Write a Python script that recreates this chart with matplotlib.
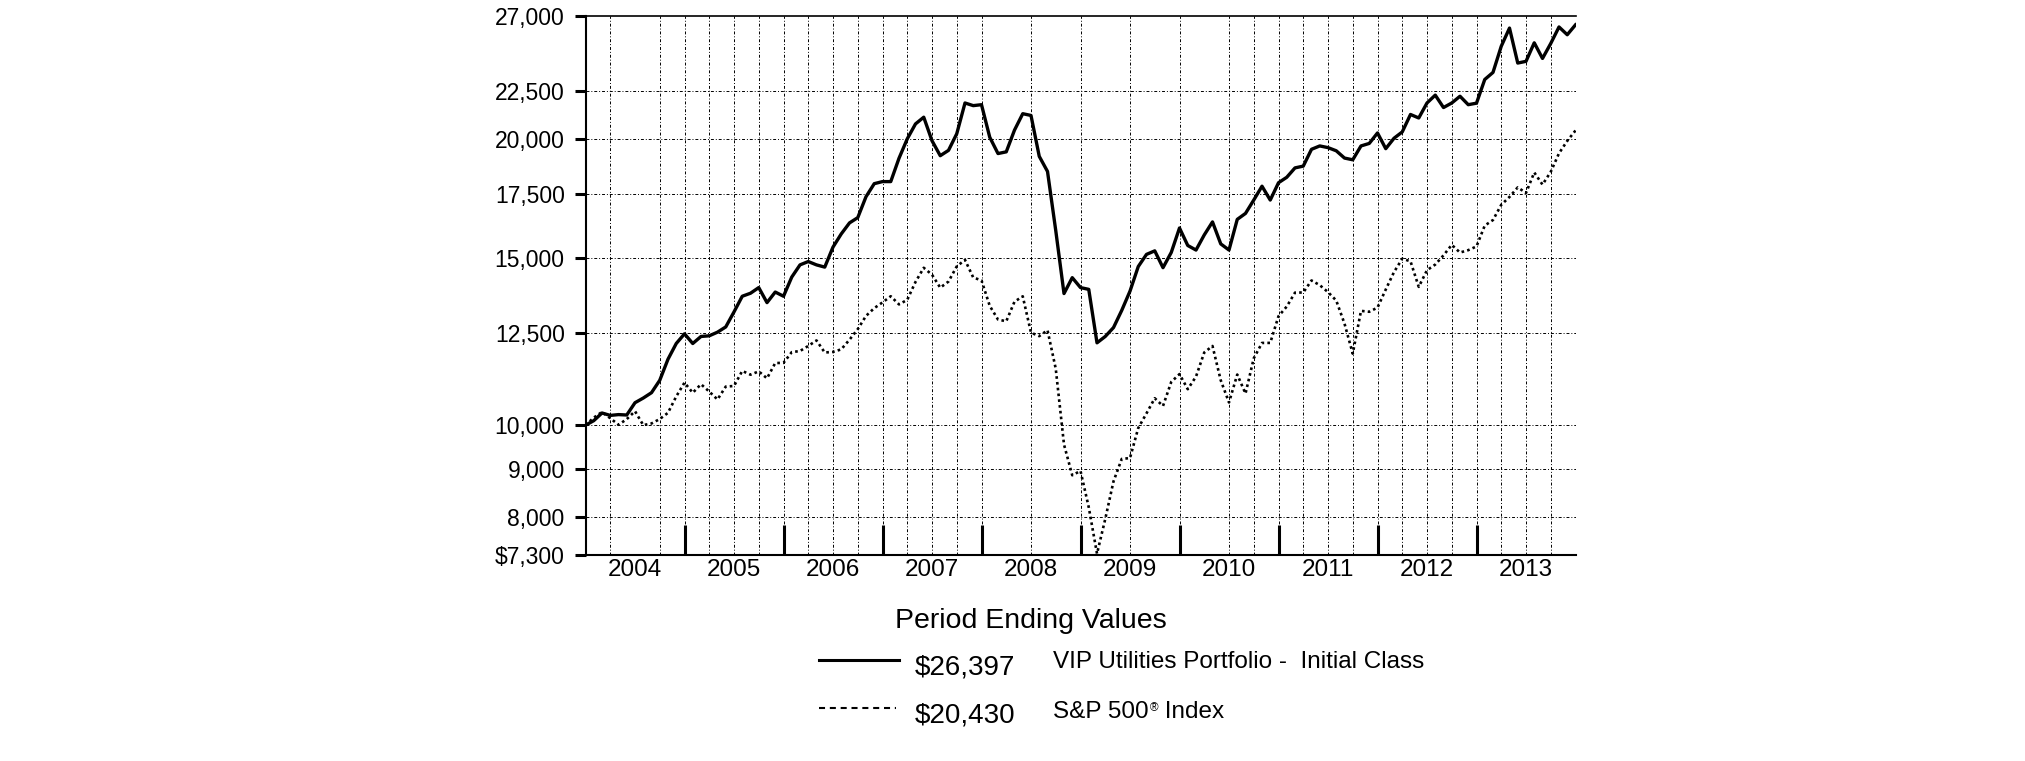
import matplotlib
matplotlib.use('Agg')
import matplotlib.pyplot as plt
from matplotlib.lines import Line2D
from matplotlib.ticker import FixedLocator, NullLocator
import numpy as np

plt.rcParams['font.family'] = ['Liberation Sans', 'DejaVu Sans']

# month-end values, Dec 2003 (index 0) .. Dec 2013 (index 120)
vip_utilities = [
    10000,
    10110, 10300, 10240, 10260, 10250, 10560, 10680, 10820, 11150, 11735, 12190, 12480,
    12190, 12400, 12420, 12530, 12690, 13160, 13670, 13770, 13960, 13460, 13810, 13670,
    14320, 14750, 14870, 14750, 14670, 15400, 15900, 16330, 16540, 17400, 17960, 18050,
    18050, 19100, 20020, 20760, 21100, 19930, 19220, 19470, 20270, 21840, 21700, 21750,
    20100, 19320, 19400, 20450, 21280, 21190, 19190, 18500, 16030, 13760, 14300, 13960,
    13900, 12210, 12400, 12670, 13210, 13840, 14690, 15130, 15260, 14650, 15200, 16130,
    15460, 15290, 15860, 16370, 15520, 15290, 16470, 16710, 17260, 17850, 17260, 18000,
    18240, 18660, 18740, 19520, 19680, 19600, 19450, 19110, 19030, 19680, 19800, 20310,
    19550, 20050, 20360, 21240, 21060, 21840, 22260, 21600, 21840, 22200, 21750, 21830,
    23120, 23520, 25060, 26190, 24060, 24160, 25270, 24330, 25230, 26260, 25770, 26397,
]
sp500 = [
    10000,
    10184, 10326, 10170, 10010, 10148, 10345, 10002, 10042, 10150, 10305, 10722, 11087,
    10817, 11044, 10849, 10643, 10981, 10997, 11406, 11302, 11394, 11203, 11627, 11630,
    11938, 11970, 12118, 12281, 11927, 11944, 12018, 12304, 12621, 13033, 13281, 13467,
    13670, 13402, 13552, 14152, 14646, 14403, 13957, 14166, 14696, 14929, 14305, 14206,
    13354, 12920, 12864, 13491, 13667, 12515, 12410, 12590, 11468, 9542, 8857, 8951,
    8196, 7323, 7965, 8727, 9215, 9234, 9932, 10291, 10675, 10476, 11105, 11319,
    10912, 11250, 11928, 12117, 11149, 10566, 11307, 10797, 11760, 12207, 12208, 13024,
    13333, 13790, 13795, 14203, 14043, 13808, 13528, 12793, 11894, 13194, 13165, 13299,
    13895, 14495, 14972, 14878, 13984, 14560, 14762, 15094, 15484, 15198, 15286, 15425,
    16224, 16445, 17062, 17392, 17799, 17560, 18454, 17919, 18482, 19332, 19922, 20430,
]
years = ['2004', '2005', '2006', '2007', '2008', '2009', '2010', '2011', '2012', '2013']
y_ticks = [7300, 8000, 9000, 10000, 12500, 15000, 17500, 20000, 22500, 27000]
y_tick_labels = ['$7,300', '8,000', '9,000', '10,000', '12,500', '15,000',
                 '17,500', '20,000', '22,500', '27,000']
# dotted vertical grid (months), a few are missing in the original
grid_months = [3, 9, 12, 15, 18, 21, 24, 27, 30, 33, 36, 39, 42, 45, 48, 54, 60,
               66, 72, 78, 81, 84, 87, 90, 93, 96, 99, 102, 105, 108, 111, 114, 117]
legend_values = ['$26,397', '$20,430']
legend_title = 'Period Ending Values'

W, H = 2025, 761
fig = plt.figure(figsize=(W / 100, H / 100), dpi=100)
ax = fig.add_axes([585.5 / W, 1 - 555 / H, 990 / W, 539.5 / H])
months = np.arange(len(vip_utilities))

ax.set_yscale('log')
ax.set_xlim(0, 120)
ax.set_ylim(7300, 27000)

grid_style = dict(color='black', lw=0.7, ls=(0, (3, 2, 1, 2)), zorder=1)
for v in y_ticks[1:-1]:
    ax.axhline(v, **grid_style)
for m in grid_months:
    ax.axvline(m, **grid_style)

ax.plot(months, vip_utilities, color='black', lw=2.4, zorder=3)
ax.plot(months, sp500, color='black', lw=1.9, ls=(0, (1, 1.2)), zorder=3)

# y axis
ax.yaxis.set_major_locator(FixedLocator(y_ticks))
ax.yaxis.set_minor_locator(NullLocator())
ax.set_yticklabels(y_tick_labels)
ax.tick_params(axis='y', direction='out', length=8, width=2.2, pad=7, labelsize=16.5)

# x axis: year ticks inside, labels centred in each year
ax.set_xticks(range(12, 120, 12))
ax.set_xticklabels([])
ax.tick_params(axis='x', direction='in', length=21.6, width=2.2)
for i, yr in enumerate(years):
    ax.text(6 + 12 * i, -15 / 539.5, yr, transform=ax.get_xaxis_transform(),
            ha='center', va='center', fontsize=17.5)

ax.spines['right'].set_visible(False)
ax.spines['left'].set_linewidth(1.5)
ax.spines['bottom'].set_linewidth(1.5)
ax.spines['top'].set_linewidth(1.2)

# legend block under the chart
def fx(px):
    return px / W

def fy(py):
    return 1 - py / H

fig.text(fx(895), fy(628), legend_title, fontsize=20.5, va='baseline')
fig.add_artist(Line2D([fx(819), fx(899)], [fy(659.5)] * 2, color='black', lw=2.2))
fig.add_artist(Line2D([fx(819), fx(896)], [fy(707.5)] * 2, color='black', lw=1.5,
                      ls=(0, (2.9, 2.3))))
fig.text(fx(915), fy(674), legend_values[0], fontsize=20, va='baseline')
fig.text(fx(915), fy(722), legend_values[1], fontsize=20, va='baseline')
fig.text(fx(1053), fy(668), 'VIP Utilities Portfolio -  Initial Class', fontsize=17.5,
         va='baseline')

r = fig.canvas.get_renderer()
t1 = fig.text(fx(1053), fy(717.5), 'S&P 500', fontsize=17.5, va='baseline')
bb = t1.get_window_extent(renderer=r)
t2 = fig.text(bb.x1 / W + 1 / W, fy(711), '®', fontsize=8.5, va='baseline')
bb2 = t2.get_window_extent(renderer=r)
fig.text(bb2.x1 / W, fy(717.5), ' Index', fontsize=17.5, va='baseline')

fig.savefig('out.png', dpi=100)
